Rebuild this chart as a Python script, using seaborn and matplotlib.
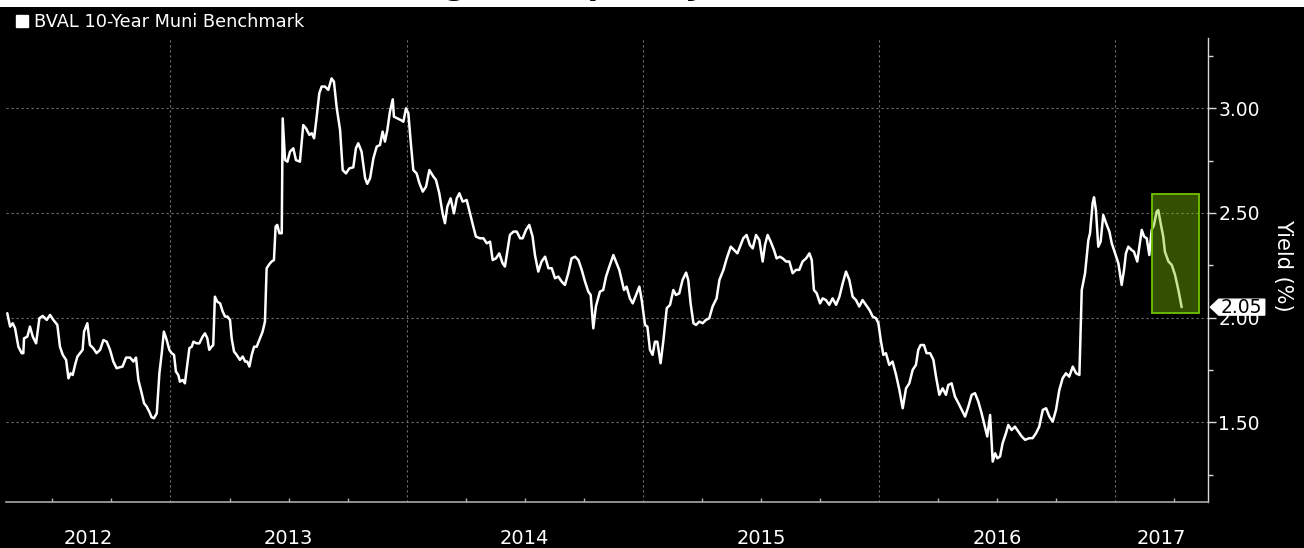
import numpy as np
import pandas as pd
import matplotlib
matplotlib.use("Agg")
import matplotlib.pyplot as plt
import matplotlib.transforms as mtransforms
import seaborn as sns
from matplotlib.patches import Rectangle
from matplotlib.path import Path
from matplotlib.lines import Line2D
from matplotlib.ticker import FixedLocator, FormatStrFormatter

# ---------------- data ----------------
chart_title = "Munis Are Having a Sharp Rally"
series_name = "BVAL 10-Year Muni Benchmark"
axis_title = "Yield (%)"
year_labels = [2012, 2013, 2014, 2015, 2016, 2017]
y_major_ticks = [1.50, 2.00, 2.50, 3.00]
last_value = 2.05
highlight_years = [2017.155, 2017.354]
highlight_yields = [2.022, 2.590]

decimal_year = [
    2012.309, 2012.321, 2012.332, 2012.342, 2012.356, 2012.370, 2012.377, 2012.380, 2012.394, 2012.405,
    2012.417, 2012.431, 2012.445, 2012.459, 2012.476, 2012.490, 2012.504, 2012.521, 2012.532, 2012.544,
    2012.558, 2012.568, 2012.577, 2012.586, 2012.596, 2012.606, 2012.617, 2012.628, 2012.634, 2012.648,
    2012.659, 2012.673, 2012.687, 2012.702, 2012.716, 2012.730, 2012.744, 2012.758, 2012.772, 2012.786,
    2012.797, 2012.812, 2012.829, 2012.843, 2012.854, 2012.864, 2012.878, 2012.888, 2012.899, 2012.910,
    2012.920, 2012.930, 2012.942, 2012.953, 2012.963, 2012.972, 2012.984, 2012.995, 2013.005, 2013.015,
    2013.023, 2013.033, 2013.040, 2013.052, 2013.061, 2013.071, 2013.080, 2013.090, 2013.097, 2013.111,
    2013.122, 2013.136, 2013.146, 2013.156, 2013.164, 2013.174, 2013.181, 2013.188, 2013.198, 2013.210,
    2013.221, 2013.231, 2013.241, 2013.252, 2013.259, 2013.269, 2013.280, 2013.294, 2013.306, 2013.316,
    2013.325, 2013.334, 2013.344, 2013.354, 2013.365, 2013.376, 2013.390, 2013.400, 2013.407, 2013.419,
    2013.428, 2013.438, 2013.445, 2013.452, 2013.461, 2013.471, 2013.475, 2013.485, 2013.495, 2013.506,
    2013.520, 2013.531,
    2013.548, 2013.562, 2013.574, 2013.588, 2013.598, 2013.608, 2013.619, 2013.630, 2013.640, 2013.654,
    2013.668, 2013.682, 2013.692, 2013.704, 2013.718, 2013.729, 2013.743, 2013.757, 2013.774, 2013.785,
    2013.795, 2013.809, 2013.824, 2013.833, 2013.845, 2013.859, 2013.873, 2013.887, 2013.898, 2013.908,
    2013.918, 2013.929, 2013.941, 2013.946, 2013.960, 2013.975, 2013.986, 2013.997, 2014.007, 2014.017,
    2014.028, 2014.042, 2014.054, 2014.068, 2014.082, 2014.096, 2014.113, 2014.124, 2014.138, 2014.152,
    2014.162, 2014.172, 2014.186, 2014.200, 2014.212, 2014.223, 2014.237, 2014.254, 2014.268, 2014.282,
    2014.293, 2014.310, 2014.325, 2014.339, 2014.353, 2014.364, 2014.378, 2014.392, 2014.406, 2014.416,
    2014.426, 2014.437, 2014.452, 2014.466, 2014.480, 2014.491, 2014.505, 2014.519, 2014.533, 2014.543,
    2014.557, 2014.571, 2014.586, 2014.600, 2014.614, 2014.628, 2014.642, 2014.656, 2014.670, 2014.684,
    2014.698, 2014.713, 2014.727, 2014.741, 2014.755, 2014.769, 2014.779, 2014.790, 2014.801,
    2014.818, 2014.832, 2014.844, 2014.858, 2014.875, 2014.886, 2014.900, 2014.910, 2014.920, 2014.931,
    2014.945, 2014.957, 2014.971, 2014.985, 2014.995, 2015.009, 2015.019, 2015.030, 2015.041, 2015.051,
    2015.061, 2015.075, 2015.087, 2015.101, 2015.115, 2015.129, 2015.140, 2015.154, 2015.168, 2015.183,
    2015.192, 2015.202, 2015.214, 2015.225, 2015.239, 2015.253, 2015.267, 2015.281, 2015.295, 2015.312,
    2015.324, 2015.341, 2015.355, 2015.372, 2015.386, 2015.400, 2015.411, 2015.425, 2015.439, 2015.453,
    2015.465, 2015.479, 2015.493, 2015.507, 2015.517, 2015.528, 2015.541, 2015.555, 2015.566, 2015.580,
    2015.592, 2015.606, 2015.620, 2015.634, 2015.648, 2015.662, 2015.676, 2015.691, 2015.705, 2015.715,
    2015.724, 2015.736, 2015.750, 2015.761, 2015.775, 2015.789, 2015.803, 2015.818, 2015.832, 2015.846,
    2015.860, 2015.874, 2015.888, 2015.902, 2015.916, 2015.930, 2015.944, 2015.959, 2015.973, 2015.987,
    2015.997, 2016.007, 2016.018, 2016.029, 2016.043, 2016.057, 2016.072, 2016.086,
    2016.100, 2016.114, 2016.128, 2016.142, 2016.156, 2016.166, 2016.176, 2016.190, 2016.201, 2016.216,
    2016.230, 2016.241, 2016.255, 2016.269, 2016.283, 2016.293, 2016.307, 2016.321, 2016.336, 2016.350,
    2016.364, 2016.378, 2016.392, 2016.406, 2016.420, 2016.434, 2016.448, 2016.458, 2016.470, 2016.481,
    2016.491, 2016.501, 2016.512, 2016.523, 2016.537, 2016.547, 2016.561, 2016.575, 2016.590, 2016.604,
    2016.618, 2016.636, 2016.650, 2016.664, 2016.678, 2016.693, 2016.707, 2016.721, 2016.735, 2016.749,
    2016.763, 2016.777, 2016.791, 2016.805, 2016.820, 2016.834, 2016.848, 2016.858, 2016.872, 2016.886,
    2016.893, 2016.904, 2016.910, 2016.918, 2016.928, 2016.938, 2016.949, 2016.961, 2016.975, 2016.985,
    2016.999, 2017.013, 2017.027, 2017.037, 2017.045, 2017.055, 2017.069, 2017.079, 2017.093, 2017.102,
    2017.112, 2017.122, 2017.133, 2017.144, 2017.154, 2017.164, 2017.175, 2017.182, 2017.192, 2017.203,
    2017.210, 2017.225, 2017.239, 2017.253, 2017.267, 2017.281,
]

yield_pct = [
    2.021, 1.957, 1.973, 1.949, 1.861, 1.830, 1.830, 1.901, 1.909, 1.957,
    1.909, 1.877, 1.997, 2.008, 1.989, 2.013, 1.989, 1.965, 1.861, 1.822,
    1.798, 1.710, 1.734, 1.726, 1.774, 1.814, 1.830, 1.846, 1.933, 1.973,
    1.869, 1.854, 1.830, 1.846, 1.893, 1.885, 1.846, 1.790, 1.758, 1.763,
    1.766, 1.809, 1.809, 1.790, 1.809, 1.702, 1.639, 1.591, 1.575, 1.551,
    1.524, 1.519, 1.543, 1.734, 1.830, 1.933, 1.893, 1.846, 1.830, 1.822,
    1.742, 1.726, 1.694, 1.702, 1.686, 1.774, 1.854, 1.861, 1.885, 1.877,
    1.877, 1.909, 1.925, 1.901, 1.846, 1.861, 1.869, 2.100, 2.076, 2.068,
    2.029, 2.005, 2.005, 1.989, 1.901, 1.838, 1.822, 1.798, 1.814, 1.790,
    1.790, 1.766, 1.822, 1.861, 1.861, 1.893, 1.933, 1.981, 2.236, 2.256,
    2.268, 2.275, 2.435, 2.443, 2.403, 2.403, 2.952, 2.753, 2.745, 2.793,
    2.809, 2.753,
    2.745, 2.920, 2.904, 2.873, 2.881, 2.857, 2.960, 3.072, 3.104, 3.104,
    3.088, 3.143, 3.127, 3.000, 2.896, 2.705, 2.689, 2.713, 2.718, 2.809,
    2.833, 2.793, 2.666, 2.639, 2.666, 2.761, 2.817, 2.825, 2.889, 2.841,
    2.896, 2.984, 3.043, 2.960, 2.952, 2.944, 2.936, 3.000, 2.976, 2.841,
    2.705, 2.689, 2.642, 2.602, 2.626, 2.705, 2.674, 2.658, 2.594, 2.498,
    2.451, 2.530, 2.570, 2.498, 2.570, 2.594, 2.554, 2.562, 2.498, 2.435,
    2.387, 2.379, 2.379, 2.355, 2.363, 2.275, 2.283, 2.307, 2.260, 2.244,
    2.315, 2.395, 2.411, 2.411, 2.379, 2.379, 2.419, 2.443, 2.387, 2.299,
    2.220, 2.268, 2.291, 2.236, 2.236, 2.188, 2.196, 2.172, 2.156, 2.212,
    2.283, 2.291, 2.275, 2.228, 2.172, 2.124, 2.108, 1.949, 2.053,
    2.124, 2.132, 2.196, 2.244, 2.299, 2.268, 2.228, 2.180, 2.132, 2.148,
    2.092, 2.068, 2.108, 2.148, 2.084, 1.965, 1.957, 1.846, 1.822, 1.885,
    1.885, 1.782, 1.893, 2.045, 2.061, 2.132, 2.108, 2.116, 2.180, 2.215,
    2.180, 2.068, 1.973, 1.965, 1.981, 1.973, 1.989, 1.997, 2.053, 2.092,
    2.180, 2.228, 2.283, 2.339, 2.323, 2.307, 2.339, 2.379, 2.395, 2.347,
    2.331, 2.395, 2.371, 2.268, 2.347, 2.395, 2.363, 2.323, 2.283, 2.291,
    2.283, 2.268, 2.268, 2.212, 2.228, 2.228, 2.268, 2.283, 2.307, 2.275,
    2.132, 2.116, 2.068, 2.092, 2.084, 2.061, 2.092, 2.061, 2.100, 2.164,
    2.220, 2.180, 2.100, 2.084, 2.053, 2.084, 2.061, 2.037, 2.005, 1.997,
    1.973, 1.893, 1.822, 1.830, 1.774, 1.790, 1.726, 1.654,
    1.567, 1.662, 1.686, 1.750, 1.774, 1.846, 1.869, 1.869, 1.830, 1.830,
    1.798, 1.718, 1.631, 1.662, 1.631, 1.678, 1.686, 1.623, 1.591, 1.559,
    1.527, 1.575, 1.631, 1.639, 1.599, 1.543, 1.479, 1.432, 1.535, 1.312,
    1.352, 1.328, 1.336, 1.400, 1.447, 1.487, 1.463, 1.479, 1.455, 1.432,
    1.416, 1.424, 1.424, 1.447, 1.479, 1.559, 1.567, 1.527, 1.503, 1.559,
    1.654, 1.710, 1.734, 1.718, 1.766, 1.734, 1.726, 2.132, 2.212, 2.371,
    2.403, 2.546, 2.575, 2.514, 2.339, 2.363, 2.490, 2.451, 2.411, 2.355,
    2.307, 2.260, 2.156, 2.228, 2.307, 2.339, 2.323, 2.315, 2.268, 2.339,
    2.419, 2.387, 2.379, 2.299, 2.419, 2.443, 2.506, 2.514, 2.451, 2.387,
    2.315, 2.268, 2.252, 2.204, 2.132, 2.050,
]

# ---------------- style ----------------
sns.set_theme(style="dark")
plt.rcParams["font.family"] = ["DejaVu Sans"]
plt.rcParams["axes.unicode_minus"] = False

W, H = 1304, 548
fig = plt.figure(figsize=(W / 100, H / 100), dpi=100, facecolor="black")
ax_left, ax_right, ax_top, ax_bottom = 6, 1208, 38, 502
ax = fig.add_axes([ax_left / W, 1 - ax_bottom / H,
                   (ax_right - ax_left) / W, (ax_bottom - ax_top) / H])
ax.set_facecolor("black")

df = pd.DataFrame({"year": decimal_year, "yield": yield_pct})
sns.lineplot(data=df, x="year", y="yield", ax=ax, color="white",
             linewidth=1.8, zorder=3, legend=False)

xlim = (2012.3036, 2017.3925)
ax.set_xlim(*xlim)
ax.set_ylim(1.119, 3.336)
ax.set_xlabel("")

# spines
for s in ("left", "top"):
    ax.spines[s].set_visible(False)
ax.spines["right"].set_color("#d8d8d8")
ax.spines["right"].set_linewidth(1.0)
ax.spines["bottom"].set_color("#a8a8a8")
ax.spines["bottom"].set_linewidth(1.2)

# y axis on the right
ax.yaxis.tick_right()
ax.yaxis.set_major_locator(FixedLocator(y_major_ticks))
ax.yaxis.set_major_formatter(FormatStrFormatter("%.2f"))
ax.yaxis.set_minor_locator(FixedLocator([1.25, 1.75, 2.25, 2.75, 3.25]))
ax.tick_params(axis="y", which="major", direction="out", length=5.5, width=1,
               color="#d8d8d8", labelcolor="white", labelsize=13.5, pad=2,
               right=True, left=False)
ax.tick_params(axis="y", which="minor", direction="out", length=3.5, width=1,
               color="#d8d8d8", right=True, left=False)

# x axis: year separators + quarter ticks
boundaries = year_labels[1:]
ax.xaxis.set_major_locator(FixedLocator(boundaries))
quarters = [y + q / 4 for y in year_labels for q in (1, 2, 3)]
quarters = [q for q in quarters if xlim[0] < q < xlim[1]]
ax.xaxis.set_minor_locator(FixedLocator(quarters))
ax.tick_params(axis="x", which="major", direction="out", length=34, width=0.8,
               color="#6a6a6a", labelbottom=False)
ax.tick_params(axis="x", which="minor", direction="in", length=3, width=1,
               color="#b0b0b0", bottom=True)

ax.grid(True, which="major", axis="both", color="#707070",
        linestyle=(0, (2, 2.5)), linewidth=0.8)
ax.set_axisbelow(True)

blend = mtransforms.blended_transform_factory(ax.transData, ax.transAxes)
for yr in year_labels:
    a = max(yr, xlim[0])
    b = min(yr + 1, xlim[1])
    ax.text((a + b) / 2, -0.078, str(yr), transform=blend, ha="center",
            va="center", color="white", fontsize=14, clip_on=False)

# axis title
ax.set_ylabel(axis_title, rotation=270, color="white", fontsize=15,
              ha="center", va="center", rotation_mode="anchor")
ax.yaxis.set_label_position("right")
ax.yaxis.label.set_verticalalignment("center")
ax.yaxis.set_label_coords((1283 - ax_left) / (ax_right - ax_left), 0.511)

# highlight box
ax.add_patch(Rectangle((highlight_years[0], highlight_yields[0]),
                       highlight_years[1] - highlight_years[0],
                       highlight_yields[1] - highlight_yields[0],
                       facecolor=(0.48, 0.77, 0.0, 0.41),
                       edgecolor=(0.45, 0.76, 0.0, 1.0),
                       linewidth=1.3, zorder=4))


# last-value tag
def tag_box(x0, y0, width, height, mutation_size):
    pad = 0.12 * mutation_size
    tip = 0.45 * mutation_size
    y0 = y0 + 0.08 * height
    height = height * 0.84
    left = x0 - pad
    right = x0 + width + pad
    verts = [(left - tip, y0 + height / 2), (left, y0 + height),
             (right, y0 + height), (right, y0), (left, y0),
             (left - tip, y0 + height / 2)]
    return Path(verts, closed=True)


ax.annotate(f"{last_value:.2f}", xy=(1, last_value),
            xycoords=("axes fraction", "data"),
            xytext=(13, 0), textcoords="offset pixels",
            ha="left", va="center", fontsize=13.5, color="black",
            bbox=dict(boxstyle=tag_box, facecolor="white", edgecolor="white"),
            zorder=10, annotation_clip=False)

# legend
handle = Line2D([], [], marker="s", color="white", linestyle="None", markersize=9)
fig.legend([handle], [series_name], loc="center left",
           bbox_to_anchor=(14.5 / W, 1 - 22 / H), frameon=False,
           handletextpad=0.3, handlelength=0.8, borderpad=0, borderaxespad=0,
           labelcolor="white", fontsize=12.8)

# top white band with (mostly cut off) title
fig.patches.append(Rectangle((0, 1 - 7 / H), 1, 7 / H, transform=fig.transFigure,
                             facecolor="white", edgecolor="none", zorder=0))
fig.text(437 / W, 1 + 5 / H, chart_title, ha="center", va="baseline",
         fontsize=22, fontweight="bold", fontstyle="italic", color="black")

fig.savefig("out.png", dpi=100, facecolor="black")
